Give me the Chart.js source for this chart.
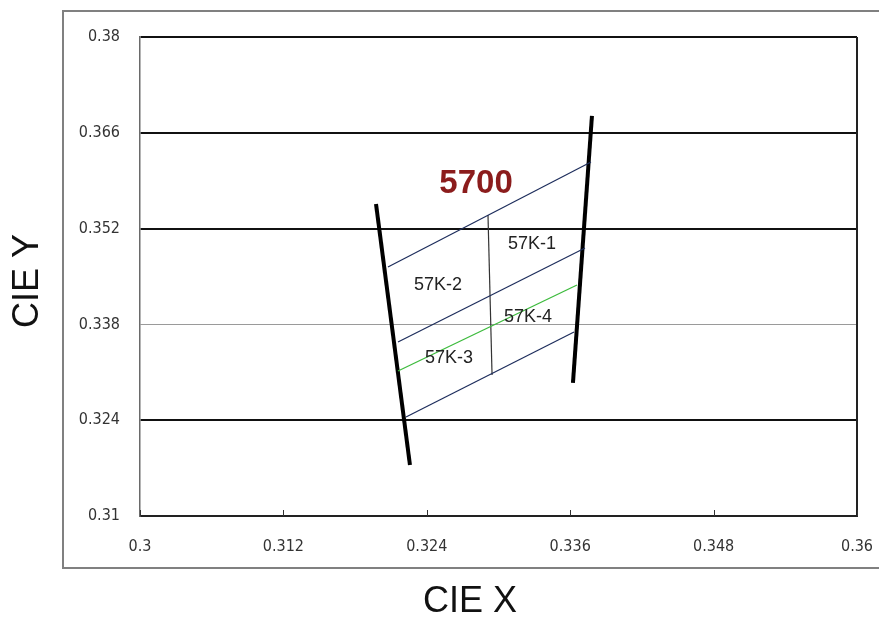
<!DOCTYPE html>
<html>
<head>
<meta charset="utf-8">
<script src="https://cdn.jsdelivr.net/npm/chart.js@4/dist/chart.umd.min.js"></script>
<style>
html,body{margin:0;padding:0;background:#fff;}
canvas{display:block;}
</style>
</head>
<body>
<canvas id="c" width="879" height="620"></canvas>
<script>
// ---- data ----
const xTicks = [0.3, 0.312, 0.324, 0.336, 0.348, 0.36];
const xTickLabels = ['0.3', '0.312', '0.324', '0.336', '0.348', '0.36'];
const yTicks = [0.31, 0.324, 0.338, 0.352, 0.366, 0.38];
const yTickLabels = ['0.31', '0.324', '0.338', '0.352', '0.366', '0.38'];

const leftBoundX = [0.31975, 0.32259];
const leftBoundY = [0.3556, 0.31745];
const rightBoundX = [0.33782, 0.33623];
const rightBoundY = [0.36846, 0.32944];

const iso1X = [0.32075, 0.33774];
const iso1Y = [0.34639, 0.36173];
const iso2X = [0.32159, 0.33724];
const iso2Y = [0.33543, 0.34916];
const centerX = [0.32159, 0.33657];
const centerY = [0.33119, 0.34376];
const iso4X = [0.32226, 0.33632];
const iso4Y = [0.32447, 0.33689];
const dividerX = [0.32912, 0.32946];
const dividerY = [0.35399, 0.33061];

const regionNames = ['5700', '57K-1', '57K-2', '57K-4', '57K-3'];
const regionX = [0.32812, 0.33280, 0.32494, 0.33247, 0.32586];
const regionY = [0.35852, 0.34975, 0.34376, 0.33908, 0.33309];

const xTitle = 'CIE X';
const yTitle = 'CIE Y';

// ---- helpers ----
const pts = (xs, ys) => xs.map((x, i) => ({x: x, y: ys[i]}));

const decor = {
  id: 'decor',
  beforeDraw(chart) {
    const ctx = chart.ctx;
    ctx.save();
    ctx.fillStyle = '#fff';
    ctx.fillRect(0, 0, chart.width, chart.height);
    ctx.strokeStyle = '#808080';
    ctx.lineWidth = 2;
    ctx.beginPath();
    ctx.moveTo(chart.width, 11);
    ctx.lineTo(63, 11);
    ctx.lineTo(63, 568);
    ctx.lineTo(chart.width, 568);
    ctx.stroke();
    ctx.restore();
  },
  afterDraw(chart) {
    const ctx = chart.ctx;
    const a = chart.chartArea;
    const xs = chart.scales.x, ys = chart.scales.y;
    ctx.save();
    // right border
    ctx.strokeStyle = '#222';
    ctx.lineWidth = 2;
    ctx.beginPath();
    ctx.moveTo(a.right, a.top);
    ctx.lineTo(a.right, a.bottom);
    ctx.stroke();
    // inner x tick marks
    ctx.lineWidth = 1;
    ctx.strokeStyle = '#333';
    xTicks.forEach(v => {
      const px = Math.round(xs.getPixelForValue(v)) + 0.5;
      ctx.beginPath();
      ctx.moveTo(px, a.bottom);
      ctx.lineTo(px, a.bottom - 6);
      ctx.stroke();
    });
    // region labels
    ctx.textAlign = 'center';
    ctx.textBaseline = 'middle';
    regionNames.forEach((t, i) => {
      const px = xs.getPixelForValue(regionX[i]);
      const py = ys.getPixelForValue(regionY[i]);
      if (i === 0) {
        ctx.font = 'bold 33px "Liberation Sans", Arial, sans-serif';
        ctx.fillStyle = '#8b1c1c';
      } else {
        ctx.font = '18px "Liberation Sans", Arial, sans-serif';
        ctx.fillStyle = '#222';
      }
      ctx.fillText(t, px, py);
    });
    // axis titles
    ctx.fillStyle = '#111';
    ctx.font = '36px "Liberation Sans", Arial, sans-serif';
    ctx.fillText(xTitle, 470, 602);
    ctx.translate(28, 281);
    ctx.rotate(-Math.PI / 2);
    ctx.fillText(yTitle, 0, 0);
    ctx.restore();
  }
};

const lineDs = (xs, ys, color, width) => ({
  data: pts(xs, ys),
  showLine: true,
  borderColor: color,
  backgroundColor: color,
  borderWidth: width,
  pointRadius: 0,
  fill: false
});

new Chart(document.getElementById('c'), {
  type: 'scatter',
  data: {
    datasets: [
      lineDs(iso1X, iso1Y, '#1d2d5c', 1.2),
      lineDs(iso2X, iso2Y, '#1d2d5c', 1.2),
      lineDs(centerX, centerY, '#3dbb3d', 1.3),
      lineDs(iso4X, iso4Y, '#1d2d5c', 1.2),
      lineDs(dividerX, dividerY, '#333', 1.2),
      lineDs(leftBoundX, leftBoundY, '#000', 4),
      lineDs(rightBoundX, rightBoundY, '#000', 4)
    ]
  },
  options: {
    responsive: false,
    animation: false,
    devicePixelRatio: 1,
    layout: {padding: {left: 0, top: 37, right: 22, bottom: 0}},
    plugins: {legend: {display: false}, tooltip: {enabled: false}},
    scales: {
      x: {
        type: 'linear',
        min: 0.3, max: 0.36,
        afterBuildTicks: s => { s.ticks = xTicks.map(v => ({value: v})); },
        afterFit: s => { s.height = 104; s.paddingLeft = 0; s.paddingRight = 0; },
        grid: {display: false, drawTicks: false},
        border: {display: true, color: '#222', width: 2},
        ticks: {
          padding: 21,
          color: '#333',
          font: {family: '"DejaVu Sans Condensed", "DejaVu Sans", sans-serif', size: 16},
          callback: (v, i) => xTickLabels[i],
          maxRotation: 0, autoSkip: false
        }
      },
      y: {
        type: 'linear',
        min: 0.31, max: 0.38,
        afterBuildTicks: s => { s.ticks = yTicks.map(v => ({value: v})); },
        afterFit: s => { s.width = 140; s.paddingTop = 0; s.paddingBottom = 0; },
        grid: {
          drawTicks: false,
          color: c => (c.tick && Math.abs(c.tick.value - 0.338) < 1e-6) ? '#9a9a9a' : '#111',
          lineWidth: c => (c.tick && Math.abs(c.tick.value - 0.338) < 1e-6) ? 1 : 2
        },
        border: {display: true, color: '#6a6a6a', width: 1.5},
        ticks: {
          padding: 20,
          color: '#333',
          font: {family: '"DejaVu Sans Condensed", "DejaVu Sans", sans-serif', size: 16},
          callback: (v, i) => yTickLabels[i],
          autoSkip: false
        }
      }
    }
  },
  plugins: [decor]
});
</script>
</body>
</html>
